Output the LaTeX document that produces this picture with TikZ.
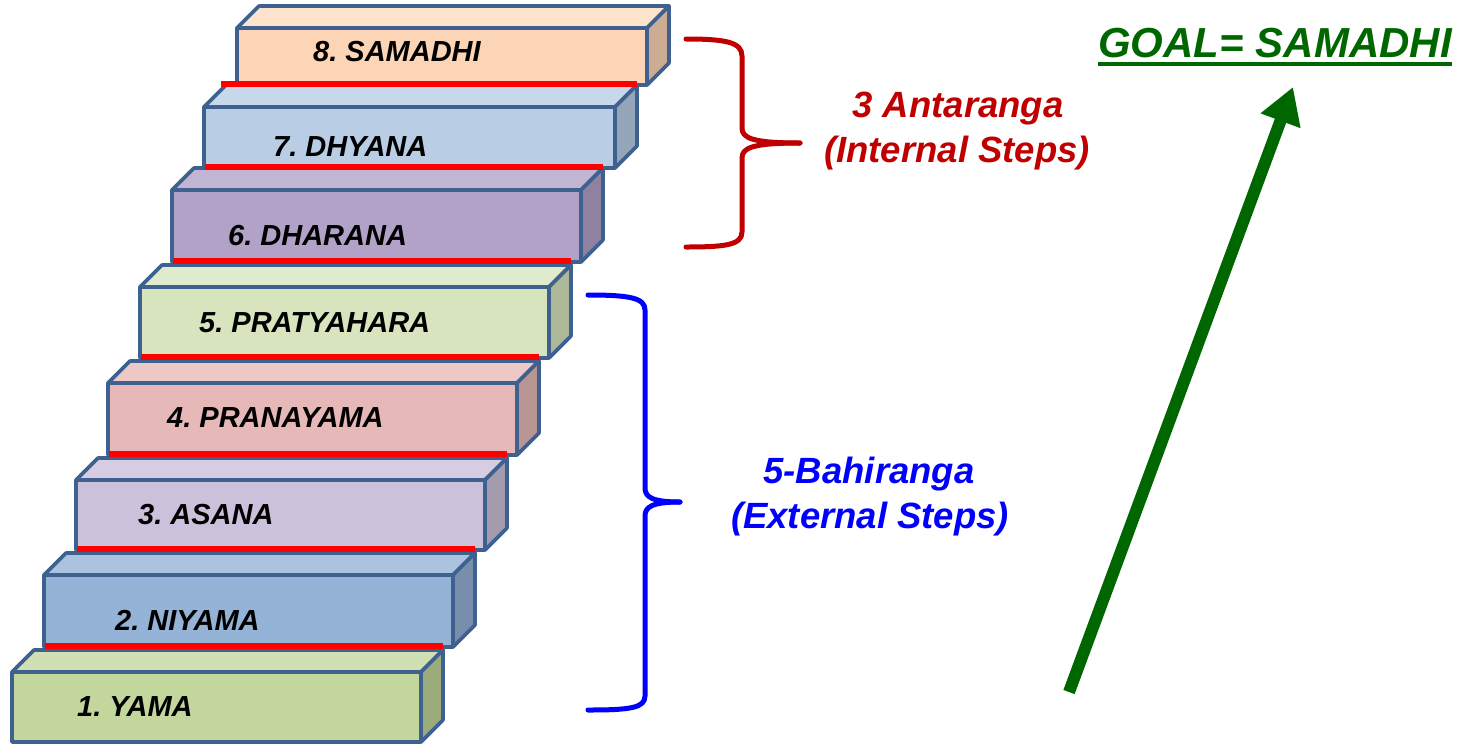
\documentclass[tikz,border=0pt]{standalone}
\usepackage{fontspec}
\setmainfont{Liberation Sans}
\usetikzlibrary{arrows.meta}
\frenchspacing
\definecolor{edgeblue}{HTML}{3E6190}
\definecolor{fEight}{HTML}{FBD5B5}\definecolor{tEight}{HTML}{FDE2CC}\definecolor{sEight}{HTML}{CCAC93}
\definecolor{fSeven}{HTML}{B9CDE5}\definecolor{tSeven}{HTML}{C7D8EC}\definecolor{sSeven}{HTML}{95A6BA}
\definecolor{fSix}{HTML}{B3A2C7}\definecolor{tSix}{HTML}{C2B4D3}\definecolor{sSix}{HTML}{8F82A0}
\definecolor{fFive}{HTML}{D7E4BD}\definecolor{tFive}{HTML}{E0EACC}\definecolor{sFive}{HTML}{ADB898}
\definecolor{fFour}{HTML}{E6B9B8}\definecolor{tFour}{HTML}{ECC8C7}\definecolor{sFour}{HTML}{B99594}
\definecolor{fThree}{HTML}{CCC1DA}\definecolor{tThree}{HTML}{D6CDE2}\definecolor{sThree}{HTML}{A49BAF}
\definecolor{fTwo}{HTML}{95B3D7}\definecolor{tTwo}{HTML}{ABC3E1}\definecolor{sTwo}{HTML}{778FAD}
\definecolor{fOne}{HTML}{C3D69B}\definecolor{tOne}{HTML}{D1E0B2}\definecolor{sOne}{HTML}{9CAB7C}
\definecolor{stepred}{HTML}{FF0000}
\definecolor{intred}{HTML}{C00000}
\definecolor{extblue}{HTML}{0000FF}
\definecolor{goalgreen}{HTML}{006600}
% left top bottom right front top side
\newcommand\stepblock[7]{%
  \filldraw[stepedge,fill=#6] (#1,#2) -- (#1+22,#2-22) -- (#4+22,#2-22) -- (#4,#2) -- cycle;
  \filldraw[stepedge,fill=#7] (#4,#2) -- (#4+22,#2-22) -- (#4+22,#3-22) -- (#4,#3) -- cycle;
  \filldraw[stepedge,fill=#5] (#1,#2) rectangle (#4,#3);
}
\begin{document}
\begin{tikzpicture}[x=1pt,y=-1pt,
  stepedge/.style={draw=edgeblue,line width=3.6pt,line join=round},
  redline/.style={draw=stepred,line width=5.5pt},
  steplabel/.style={anchor=west,inner sep=0pt,font=\bfseries\itshape\fontsize{29}{29}\selectfont},
  sidelabel/.style={anchor=base,inner sep=0pt,font=\bfseries\itshape\fontsize{36.5}{36.5}\selectfont},
  bracestyle/.style={line width=5pt,line cap=round,line join=round}]
\useasboundingbox (0,0) rectangle (1466,745);
\fill[white] (0,0) rectangle (1466,745);

\stepblock{12}{672}{742}{421}{fOne}{tOne}{sOne}
\stepblock{44}{575}{647}{453}{fTwo}{tTwo}{sTwo}
\stepblock{76}{480}{550}{485}{fThree}{tThree}{sThree}
\stepblock{108}{383}{455}{517}{fFour}{tFour}{sFour}
\stepblock{140}{287}{358}{549}{fFive}{tFive}{sFive}
\stepblock{172}{190}{262}{581}{fSix}{tSix}{sSix}
\stepblock{204}{107}{168}{615}{fSeven}{tSeven}{sSeven}
\stepblock{237}{28}{85}{647}{fEight}{tEight}{sEight}

\draw[redline] (45,646) -- (443,646);
\draw[redline] (77,549) -- (475,549);
\draw[redline] (109,454) -- (507,454);
\draw[redline] (141,357) -- (539,357);
\draw[redline] (173,261) -- (571,261);
\draw[redline] (205,167) -- (603,167);
\draw[redline] (221,84) -- (637,84);

\node[steplabel] (l1) at (77,707) {1. YAMA};
\node[steplabel] (l2) at (115,620) {2. NIYAMA};
\node[steplabel] (l3) at (138,515) {3. ASANA};
\node[steplabel] (l4) at (167,418) {4. PRANAYAMA};
\node[steplabel] (l5) at (199,323) {5. PRATYAHARA};
\node[steplabel] (l6) at (228,236) {6. DHARANA};
\node[steplabel] (l7) at (273,147) {7. DHYANA};
\node[steplabel] (l8) at (313,52) {8. SAMADHI};

% red brace
\draw[bracestyle,intred] (686,39) .. controls (725,39) and (742,42) .. (742,56) -- (742,128) .. controls (742,138) and (752,143) .. (800,143);
\draw[bracestyle,intred] (800,143) .. controls (752,143) and (742,148) .. (742,158) -- (742,232) .. controls (742,245) and (725,247) .. (686,247);
% blue brace
\draw[bracestyle,extblue] (588,295) .. controls (630,295) and (645,298) .. (645,310) -- (645,488) .. controls (645,497) and (652,502) .. (680,502);
\draw[bracestyle,extblue] (680,502) .. controls (652,502) and (645,507) .. (645,516) -- (645,696) .. controls (645,708) and (630,710) .. (588,710);

\node[sidelabel,text=intred] (int1) at (958,117) {3 Antaranga};
\node[sidelabel,text=intred] (int2) at (957,162) {(Internal Steps)};
\node[sidelabel,text=extblue] (ext1) at (869,483) {5-Bahiranga};
\node[sidelabel,text=extblue] (ext2) at (870,528) {(External Steps)};

\node[anchor=base west,inner sep=0pt,text=goalgreen,font=\bfseries\itshape\fontsize{42}{42}\selectfont] (goal) at (1098,57) {GOAL= SAMADHI};
\draw[goalgreen,line width=4pt] ([yshift=-7pt]goal.base west) -- ([yshift=-7pt]goal.base east);

\coordinate (arrowstart) at (1069,692);
\coordinate (arrowend) at (1293,87);
\draw[goalgreen,line width=12pt,-{Triangle[length=36pt,width=40pt]}] (arrowstart) -- (arrowend);
\end{tikzpicture}
\end{document}
